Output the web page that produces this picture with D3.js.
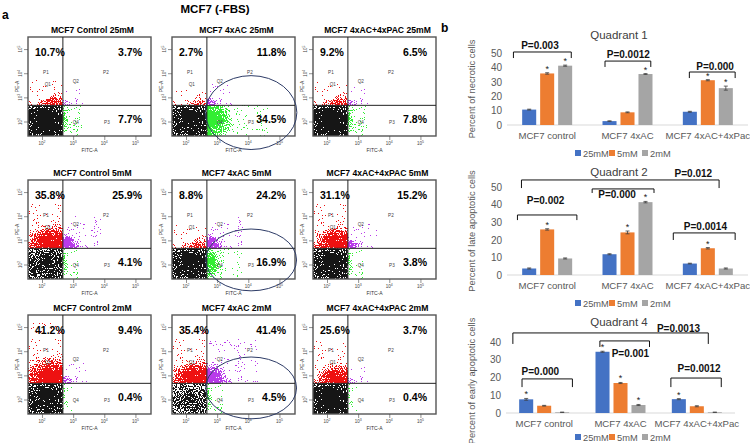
<!DOCTYPE html>
<html>
<head>
<meta charset="utf-8">
<script src="https://cdn.jsdelivr.net/npm/d3@7"></script>
<style>
body { margin: 0; background: #fff; }
svg { display: block; font-family: "Liberation Sans", Arial, sans-serif; }
.narrow { font-family: "Liberation Sans Narrow", "Arial Narrow", "Liberation Sans", sans-serif; font-weight: bold; }
</style>
</head>
<body>
<script>
const width = 750
const height = 443

// ---- panel a : flow cytometry quadrant percentages, [concentration][treatment]
const concs = ['25mM', '5mM', '2mM']
const treatments = ['Control', '4xAC', '4xAC+4xPAC']
const q1Pct = [[10.7, 2.7, 9.2], [35.8, 8.8, 31.1], [41.2, 35.4, 25.6]]
const q2Pct = [[3.7, 11.8, 6.5], [25.9, 24.2, 15.2], [9.4, 41.4, 3.7]]
const q4Pct = [[7.7, 34.5, 7.8], [4.1, 16.9, 3.8], [0.4, 4.5, 0.4]]
// ellipse gate drawn on the 4xAC plots: log10 FITC centre, log10 PE centre, half widths in decades
const ellipseGate = [[4.09, 2.37, 1.47, 1.53], [4.09, 2.19, 1.46, 1.28], [4.09, 2.48, 1.46, 1.28]]
const ellipseCol = 1

// ---- panel b : bar charts (values are the flow percentages above)
const groups = ['MCF7 control', 'MCF7 4xAC', 'MCF7 4xAC+4xPac']
const barColors = ['#4472C4', '#ED7D31', '#A5A5A5']
// error bars, [group][concentration]
const q1Err = [[0.3, 0.5, 0.4], [0.2, 0.3, 0.3], [0.3, 0.4, 1.4]]
const q2Err = [[0.3, 0.4, 0.3], [0.3, 0.8, 0.4], [0.2, 0.4, 0.3]]
const q4Err = [[0.5, 0.2, 0.1], [0.3, 0.3, 0.3], [0.3, 0.3, 0.1]]
// significance stars, [group, concentration]
const q1Stars = [[0, 1], [0, 2], [1, 2], [2, 1], [2, 2]]
const q2Stars = [[0, 1], [1, 1], [1, 2], [2, 1]]
const q4Stars = [[0, 0], [1, 0], [1, 1], [1, 2], [2, 0]]
// brackets: group coordinates x0/x1/tx, y values top/foot/ty
const q1Brackets = [
    {p: 'P=0.003', x0: -0.42, x1: 0.30, top: 50.7, foot: 46.5, tx: -0.09, ty: 52.8},
    {p: 'P=0.0012', x0: 0.72, x1: 1.29, top: 44.4, foot: 40.3, tx: 1.01, ty: 46.2},
    {p: 'P=0.000', x0: 1.77, x1: 2.34, top: 36.8, foot: 32.6, tx: 2.09, ty: 38.5}
]
const q2Brackets = [
    {p: 'P=0.012', x0: -0.32, x1: 2.14, top: 54.0, foot: 49.4, tx: 1.82, ty: 55.4},
    {p: 'P=0.002', x0: -0.37, x1: 0.37, top: 34.1, foot: 31.2, tx: -0.02, ty: 40.1},
    {p: 'P=0.000', x0: 0.56, x1: 1.33, top: 48.9, foot: 46.6, tx: 0.87, ty: 44.0},
    {p: 'P=0.0014', x0: 1.57, x1: 2.34, top: 23.9, foot: 19.9, tx: 1.97, ty: 25.3}
]
const q4Brackets = [
    {p: 'P=0.0013', x0: -0.41, x1: 2.15, top: 45.1, foot: 38.9, tx: 1.76, ty: 45.9},
    {p: 'P=0.001', x0: 0.73, x1: 1.38, top: 40.6, foot: 37.2, tx: 1.13, ty: 31.3},
    {p: 'P=0.000', x0: -0.29, x1: 0.37, top: 19.2, foot: 14.6, tx: -0.05, ty: 21.4},
    {p: 'P=0.0012', x0: 1.66, x1: 2.32, top: 19.7, foot: 14.6, tx: 2.03, ty: 23.1}
]

const svg = d3.select('body').append('svg')
    .attr('width', width)
    .attr('height', height)
const defs = svg.append('defs')

// radial fade used for the dot clouds
const fade = defs.append('radialGradient').attr('id', 'fade')
fade.append('stop').attr('offset', '0%').attr('stop-color', '#000').attr('stop-opacity', 1)
fade.append('stop').attr('offset', '55%').attr('stop-color', '#000').attr('stop-opacity', 0.75)
fade.append('stop').attr('offset', '100%').attr('stop-color', '#000').attr('stop-opacity', 0.15)

// speckle filter: turns a soft shape into a cloud of dots like a dot plot
function speckFilter(id, color, seed) {
    const f = defs.append('filter').attr('id', id)
        .attr('x', '-60%').attr('y', '-60%').attr('width', '220%').attr('height', '220%')
        .attr('color-interpolation-filters', 'sRGB')
    f.append('feGaussianBlur').attr('in', 'SourceAlpha').attr('stdDeviation', 2.5).attr('result', 'dens')
    f.append('feTurbulence').attr('type', 'fractalNoise').attr('baseFrequency', 0.95)
        .attr('numOctaves', 2).attr('seed', seed).attr('result', 'noise')
    f.append('feColorMatrix').attr('in', 'noise').attr('type', 'matrix')
        .attr('values', '0 0 0 0 0  0 0 0 0 0  0 0 0 0 0  1 0 0 0 0').attr('result', 'n')
    f.append('feComposite').attr('in', 'dens').attr('in2', 'n').attr('operator', 'arithmetic')
        .attr('k1', 0).attr('k2', 2.0).attr('k3', 4).attr('k4', -2.35).attr('result', 'mix')
    f.append('feComponentTransfer').attr('in', 'mix').attr('result', 'dots')
        .append('feFuncA').attr('type', 'discrete').attr('tableValues', '0 1')
    f.append('feFlood').attr('flood-color', color).attr('result', 'col')
    f.append('feComposite').attr('in', 'col').attr('in2', 'dots').attr('operator', 'in')
}
speckFilter('spk-black', '#161616', 3)
speckFilter('spk-red', '#ee1111', 7)
speckFilter('spk-purple', '#b93bea', 11)
speckFilter('spk-green', '#33ee33', 17)

// ---- panel a
svg.append('text').attr('x', 2).attr('y', 19).attr('font-size', 12).attr('font-weight', 'bold').text('a')
svg.append('text').attr('x', 215).attr('y', 13).attr('text-anchor', 'middle')
    .attr('font-size', 11.5).attr('font-weight', 'bold').text('MCF7 (-FBS)')

const colLeft = [28, 172, 313]
const rowTop = [37, 180, 315]
const pw = 123, ph = 99
const gateLog = 2.67

const minorTicks = []
for (let e = 1; e <= 5; e++) for (let k = 1; k <= 9; k++) minorTicks.push(k * Math.pow(10, e))
const majorTicks = [1e2, 1e3, 1e4, 1e5]

concs.forEach((conc, r) => {
    treatments.forEach((trt, c) => {
        const id = `p${r}${c}`
        const g = svg.append('g').attr('transform', `translate(${colLeft[c]},${rowTop[r]})`)
        const x = d3.scaleLog().domain([Math.pow(10, 1.55), Math.pow(10, 5.5)]).range([0, pw])
        const y = d3.scaleLog().domain([Math.pow(10, 1.4), Math.pow(10, 5.5)]).range([ph, 0])
        const X = v => x(Math.pow(10, v))
        const Y = v => y(Math.pow(10, v))
        const gx = X(gateLog), gy = Y(gateLog)

        const p1 = q1Pct[r][c], p2 = q2Pct[r][c], p4 = q4Pct[r][c]
        const p3 = 100 - p1 - p2 - p4

        // quadrant clips
        const quads = {
            q1: [0, 0, gx, gy], q2: [gx, 0, pw - gx, gy],
            q3: [0, gy, gx, ph - gy], q4: [gx, gy, pw - gx, ph - gy]
        }
        Object.entries(quads).forEach(([k, q]) => {
            defs.append('clipPath').attr('id', `${id}${k}`)
                .append('rect').attr('x', q[0]).attr('y', q[1]).attr('width', q[2]).attr('height', q[3])
        })

        // dot clouds, size and density follow the quadrant percentage
        const cloud = (quad, filter, cx, cy, rx, ry, op) => {
            g.append('g').attr('clip-path', `url(#${id}${quad})`)
                .append('g').attr('filter', `url(#${filter})`)
                .append('ellipse')
                .attr('cx', X(cx)).attr('cy', Y(cy))
                .attr('rx', X(cx + rx) - X(cx)).attr('ry', Y(cy - ry) - Y(cy))
                .attr('fill', 'url(#fade)').attr('fill-opacity', Math.min(1, op))
        }
        cloud('q3', 'spk-black', 2.15, 1.95, 1.1, 1.15, 0.45 + p3 / 110)
        cloud('q1', 'spk-red', gateLog - 0.28, gateLog + 0.02, 0.3 + 0.02 * p1, 0.22 + 0.022 * p1, 0.55 + p1 / 50)
        cloud('q2', 'spk-purple', gateLog + 0.04, gateLog + 0.04, 0.22 + 0.012 * p2, 0.22 + 0.014 * p2, 0.5 + p2 / 40)
        cloud('q4', 'spk-green', gateLog + 0.02, gateLog - 0.6, 0.12 + 0.022 * p4, 0.55 + 0.01 * p4, 0.4 + p4 / 45)

        // frame and gates
        g.append('rect').attr('width', pw).attr('height', ph)
            .attr('fill', 'none').attr('stroke', '#555').attr('stroke-width', 1.4)
        g.append('line').attr('x1', gx).attr('x2', gx).attr('y1', 0).attr('y2', ph)
            .attr('stroke', '#222').attr('stroke-width', 1)
        g.append('line').attr('x1', 0).attr('x2', pw).attr('y1', gy).attr('y2', gy)
            .attr('stroke', '#222').attr('stroke-width', 1)

        // axes with log minor ticks
        const inDomX = minorTicks.filter(v => v >= x.domain()[0] && v <= x.domain()[1])
        const inDomY = minorTicks.filter(v => v >= y.domain()[0] && v <= y.domain()[1])
        const ax = g.append('g').attr('transform', `translate(0,${ph})`)
        ax.call(d3.axisBottom(x).tickValues(inDomX).tickSize(2).tickFormat(''))
        ax.call(d3.axisBottom(x).tickValues(majorTicks).tickSize(4).tickFormat(''))
        const ay = g.append('g')
        ay.call(d3.axisLeft(y).tickValues(inDomY).tickSize(2).tickFormat(''))
        ay.call(d3.axisLeft(y).tickValues(majorTicks).tickSize(4).tickFormat(''))
        g.selectAll('.domain').attr('stroke', 'none')
        g.selectAll('.tick line').attr('stroke', '#444').attr('stroke-width', 0.6)

        majorTicks.forEach(v => {
            const t = g.append('text').attr('x', x(v)).attr('y', ph + 9)
                .attr('text-anchor', 'middle').attr('font-size', 4.5).attr('fill', '#444')
            t.append('tspan').text('10')
            t.append('tspan').attr('dy', -2).attr('font-size', 3.5).text(Math.log10(v))
            const ty = g.append('text').attr('transform', `translate(-6,${y(v)}) rotate(-90)`)
                .attr('text-anchor', 'middle').attr('font-size', 4.5).attr('fill', '#444')
            ty.append('tspan').text('10')
            ty.append('tspan').attr('dy', -2).attr('font-size', 3.5).text(Math.log10(v))
        })
        g.append('text').attr('x', pw / 2).attr('y', ph + 16).attr('text-anchor', 'middle')
            .attr('font-size', 5).attr('fill', '#333').text('FITC-A')
        g.append('text').attr('transform', `translate(-9,${ph / 2}) rotate(-90)`)
            .attr('text-anchor', 'middle').attr('font-size', 5).attr('fill', '#333').text('PE-A')

        // gate names
        const small = (tx, ty, s) => g.append('text').attr('x', tx).attr('y', ty)
            .attr('font-size', 4.6).attr('fill', '#444').attr('text-anchor', 'middle').text(s)
        small(gx - 17, 37, 'P1')
        small(gx - 15, 49, 'Q1')
        small(gx + 13, 46, 'Q2')
        small(gx + 43, 37, 'P2')
        small(gx + 13, gy + 19, 'Q4')
        small(gx + 44, gy + 19, 'P3')

        // ellipse gate
        if (c === ellipseCol) {
            const e = ellipseGate[r]
            g.append('ellipse')
                .attr('cx', X(e[0])).attr('cy', Y(e[1]))
                .attr('rx', X(e[0] + e[2]) - X(e[0])).attr('ry', Y(e[1] - e[3]) - Y(e[1]))
                .attr('fill', 'none').attr('stroke', '#2d3b66').attr('stroke-width', 1)
        }

        // percentages and title
        g.append('text').attr('class', 'narrow').attr('x', 7).attr('y', 19)
            .attr('font-size', 10.5).text(p1 + '%')
        g.append('text').attr('class', 'narrow').attr('x', pw - 9).attr('y', 19)
            .attr('text-anchor', 'end').attr('font-size', 10.5).text(p2 + '%')
        g.append('text').attr('class', 'narrow').attr('x', pw - 9).attr('y', gy + 18)
            .attr('text-anchor', 'end').attr('font-size', 10.5).text(p4 + '%')
        g.append('text').attr('class', 'narrow').attr('x', pw / 2 + 3).attr('y', -4)
            .attr('text-anchor', 'middle').attr('font-size', 8.6).text(`MCF7 ${trt} ${conc}`)
    })
})

// ---- panel b
svg.append('text').attr('x', 441).attr('y', 32).attr('font-size', 12).attr('font-weight', 'bold').text('b')

const charts = [
    {title: 'Quadrant 1', pct: q1Pct, err: q1Err, stars: q1Stars, brackets: q1Brackets,
     ylab: 'Percent of necrotic cells', ymax: 50, base: 125, top: 53, xr: [507, 748],
     titleY: 39, legendY: 153, ylabY: 89},
    {title: 'Quadrant 2', pct: q2Pct, err: q2Err, stars: q2Stars, brackets: q2Brackets,
     ylab: 'Percent of late apoptotic cells', ymax: 50, base: 275, top: 187, xr: [507, 748],
     titleY: 176, legendY: 303, ylabY: 231},
    {title: 'Quadrant 4', pct: q4Pct, err: q4Err, stars: q4Stars, brackets: q4Brackets,
     ylab: 'Percent of early apoptotic cells', ymax: 40, base: 413, top: 342, xr: [506, 735],
     titleY: 326, legendY: 437, ylabY: 381}
]

charts.forEach(ch => {
    const g = svg.append('g')
    const y = d3.scaleLinear().domain([0, ch.ymax]).range([ch.base, ch.top])
    const xBand = d3.scaleBand().domain(groups).range(ch.xr)
    const xSub = d3.scaleBand().domain(concs).range([-25, 25]).paddingInner(0.22)
    const gpos = t => xBand(groups[0]) + xBand.bandwidth() / 2 + t * xBand.step()

    // y axis labels only
    const ya = g.append('g').attr('transform', `translate(${ch.xr[0] - 2},0)`)
        .call(d3.axisLeft(y).tickValues(d3.range(0, ch.ymax + 1, 10)).tickSize(0).tickPadding(3))
    ya.select('.domain').remove()
    ya.selectAll('text').attr('font-size', 10).attr('fill', '#595959')
        .attr('font-family', '"Liberation Sans", Arial, sans-serif')

    // baseline
    g.append('line').attr('x1', ch.xr[0]).attr('x2', ch.xr[1]).attr('y1', ch.base).attr('y2', ch.base)
        .attr('stroke', '#d9d9d9').attr('stroke-width', 1)

    // category labels
    const xa = g.append('g').attr('transform', `translate(0,${ch.base})`)
        .call(d3.axisBottom(xBand).tickSize(0).tickPadding(7))
    xa.select('.domain').remove()
    xa.selectAll('text').attr('font-size', 9.6).attr('fill', '#595959')
        .attr('font-family', '"Liberation Sans", Arial, sans-serif')

    // bars
    const rows = []
    groups.forEach((gr, gi) => concs.forEach((cc, ci) => {
        rows.push({gi, ci, gr, cc, v: ch.pct[ci][gi], e: ch.err[gi][ci]})
    }))
    const cx = d => xBand(d.gr) + xBand.bandwidth() / 2 + xSub(d.cc)
    g.selectAll('rect.bar').data(rows).enter().append('rect')
        .attr('class', 'bar')
        .attr('x', cx)
        .attr('y', d => y(d.v))
        .attr('width', xSub.bandwidth())
        .attr('height', d => ch.base - y(d.v))
        .attr('fill', d => barColors[d.ci])

    // error bars
    const eb = g.selectAll('g.err').data(rows).enter().append('g').attr('class', 'err')
        .attr('stroke', '#404040').attr('stroke-width', 0.8)
    eb.append('line')
        .attr('x1', d => cx(d) + xSub.bandwidth() / 2).attr('x2', d => cx(d) + xSub.bandwidth() / 2)
        .attr('y1', d => y(d.v - d.e)).attr('y2', d => y(d.v + d.e))
    eb.append('line')
        .attr('x1', d => cx(d) + xSub.bandwidth() / 2 - 2).attr('x2', d => cx(d) + xSub.bandwidth() / 2 + 2)
        .attr('y1', d => y(d.v + d.e)).attr('y2', d => y(d.v + d.e))
    eb.append('line')
        .attr('x1', d => cx(d) + xSub.bandwidth() / 2 - 2).attr('x2', d => cx(d) + xSub.bandwidth() / 2 + 2)
        .attr('y1', d => y(d.v - d.e)).attr('y2', d => y(d.v - d.e))

    // stars
    g.selectAll('text.star').data(ch.stars).enter().append('text')
        .attr('class', 'star')
        .attr('x', d => cx({gr: groups[d[0]], cc: concs[d[1]]}) + xSub.bandwidth() / 2)
        .attr('y', d => y(ch.pct[d[1]][d[0]] + ch.err[d[0]][d[1]]) - 1)
        .attr('text-anchor', 'middle').attr('font-size', 9).attr('fill', '#222').text('*')

    // brackets
    const br = g.selectAll('g.br').data(ch.brackets).enter().append('g').attr('class', 'br')
    br.append('path')
        .attr('d', d => `M${gpos(d.x0)},${y(d.foot)}V${y(d.top)}H${gpos(d.x1)}V${y(d.foot)}`)
        .attr('fill', 'none').attr('stroke', '#111').attr('stroke-width', 1)
    br.append('text')
        .attr('x', d => gpos(d.tx)).attr('y', d => y(d.ty))
        .attr('text-anchor', 'middle').attr('font-size', 10).attr('font-weight', 'bold')
        .attr('fill', '#111').text(d => d.p)

    // titles
    g.append('text').attr('x', 619).attr('y', ch.titleY).attr('text-anchor', 'middle')
        .attr('font-size', 11.5).attr('fill', '#404040').text(ch.title)
    g.append('text').attr('transform', `translate(475,${ch.ylabY}) rotate(-90)`)
        .attr('text-anchor', 'middle').attr('font-size', 9.3).attr('fill', '#595959').text(ch.ylab)

    // legend
    const lg = g.selectAll('g.lg').data(concs).enter().append('g').attr('class', 'lg')
        .attr('transform', (d, i) => `translate(${[575, 609, 642][i]},${ch.legendY})`)
    lg.append('rect').attr('x', 0).attr('y', -3).attr('width', 6).attr('height', 6)
        .attr('fill', (d, i) => barColors[i])
    lg.append('text').attr('x', 8).attr('y', 3.5).attr('font-size', 9.3).attr('fill', '#595959').text(d => d)
})
</script>
</body>
</html>
